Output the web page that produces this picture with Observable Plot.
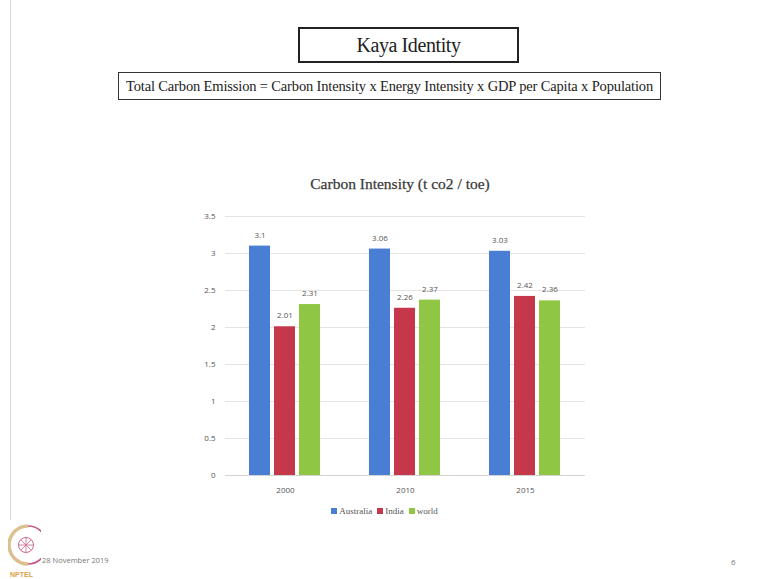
<!DOCTYPE html>
<html>
<head>
<meta charset="utf-8">
<script src="https://cdn.jsdelivr.net/npm/d3@7"></script>
<script src="https://cdn.jsdelivr.net/npm/@observablehq/plot@0.6"></script>
<style>
  html, body { margin: 0; padding: 0; background: #fff; }
  #page { position: relative; width: 764px; height: 579px; overflow: hidden; background: #fff; }
  .abs { position: absolute; }
  #vline { left: 10px; top: 0; width: 1px; height: 520px; background: #d8d8d8; }
  #kaya { left: 298px; top: 27px; width: 217px; height: 32px; border: 2px solid #222; box-sizing: content-box;
          font-family: "Liberation Serif", serif; font-size: 20px; color: #222; text-align: center; line-height: 32px; letter-spacing: -0.4px; }
  #formula { left: 118px; top: 72px; width: 541px; height: 26px; border: 1.5px solid #333;
             font-family: "Liberation Serif", serif; font-size: 14.5px; color: #222; text-align: center; line-height: 26px; letter-spacing: -0.15px; }
  #ctitle { left: 200px; top: 175px; width: 400px; text-align: center; font-family: "Liberation Serif", serif;
            font-size: 15.5px; color: #3a3a3a; -webkit-text-stroke: 0.25px #3a3a3a; }
  #plot { left: 0; top: 170px; }
  #legend { left: 302px; top: 506px; width: 160px; text-align: center; font-family: "Liberation Serif", serif; font-size: 9px; color: #555; }
  #legend span.sw { display: inline-block; width: 6px; height: 6px; margin: 0 2px 0 5px; vertical-align: 0px; }
  #date { left: 42px; top: 555px; font-family: "Open Sans", sans-serif; font-size: 7.5px; color: #777; }
  #pnum { left: 731px; top: 556px; font-family: "Open Sans", sans-serif; font-size: 8px; color: #777; }
  #logo { left: 8px; top: 520px; }
</style>
</head>
<body>
<div id="page">
  <div id="vline" class="abs"></div>
  <div id="kaya" class="abs">Kaya Identity</div>
  <div id="formula" class="abs">Total Carbon Emission = Carbon Intensity x Energy Intensity x GDP per Capita x Population</div>
  <div id="ctitle" class="abs">Carbon Intensity (t co2 / toe)</div>
  <div id="plot" class="abs"></div>
  <div id="legend" class="abs"></div>
  <svg id="logo" class="abs" width="33" height="58" viewBox="0 0 33 58">
    <path d="M 20 6 A 15 15 0 1 0 20 44" fill="none" stroke="#dcc08f" stroke-width="3.5"/>
    <path d="M 20 6 A 15 15 0 0 1 20 44" fill="none" stroke="#c9558a" stroke-width="1.6"/>
    <circle cx="18" cy="25" r="7.5" fill="none" stroke="#cc6a8e" stroke-width="1"/>
    <g stroke="#cc6a8e" stroke-width="0.8">
      <line x1="18" y1="17.5" x2="18" y2="32.5"/><line x1="10.5" y1="25" x2="25.5" y2="25"/>
      <line x1="12.7" y1="19.7" x2="23.3" y2="30.3"/><line x1="12.7" y1="30.3" x2="23.3" y2="19.7"/>
    </g>
    <text x="2" y="57" font-family="Liberation Sans, sans-serif" font-size="7" font-weight="bold" fill="#d9a04a">NPTEL</text>
  </svg>
  <div id="date" class="abs">28 November 2019</div>
  <div id="pnum" class="abs">6</div>
</div>
<script>
const years = ["2000", "2010", "2015"];
const countries = ["Australia", "India", "world"];
const australia = [3.1, 3.06, 3.03];
const india = [2.01, 2.26, 2.42];
const world = [2.31, 2.37, 2.36];
const colors = ["#4a7dd4", "#c5384b", "#8fc744"];
const yTicks = [0, 0.5, 1, 1.5, 2, 2.5, 3, 3.5];

const series = [australia, india, world];
const data = [];
years.forEach((yr, i) => {
  countries.forEach((c, j) => {
    data.push({year: yr, country: c, value: series[j][i]});
  });
});

const chart = Plot.plot({
  width: 764,
  height: 360,
  marginLeft: 225,
  marginRight: 179,
  marginTop: 46,
  marginBottom: 55,
  style: {fontFamily: "Open Sans, sans-serif", fontSize: "8px", color: "#555", background: "transparent"},
  fx: {domain: years, paddingInner: 0, paddingOuter: 0, label: null, axis: "bottom", tickSize: 0, tickPadding: 12},
  x: {domain: countries, paddingInner: 0.15, paddingOuter: 0.92, axis: null},
  y: {domain: [0, 3.5], ticks: yTicks, tickFormat: d => String(d), tickSize: 0, tickPadding: 10, label: null},
  color: {domain: countries, range: colors},
  facet: {data: data, x: "year", marginBottom: 55},
  marks: [
    Plot.ruleY(yTicks.filter(d => d > 0), {stroke: "#e4e4e4", strokeWidth: 1}),
    Plot.ruleY([0], {stroke: "#d4d4d4", strokeWidth: 1}),
    Plot.barY(data, {x: "country", y: "value", fill: "country"}),
    Plot.text(data, {x: "country", y: "value", text: d => String(d.value), dy: -11, fill: "#555", fontSize: 8})
  ]
});
document.getElementById("plot").appendChild(chart);

const legend = document.getElementById("legend");
countries.forEach((c, i) => {
  const sw = document.createElement("span");
  sw.className = "sw";
  sw.style.background = colors[i];
  legend.appendChild(sw);
  legend.appendChild(document.createTextNode(c));
});
</script>
</body>
</html>
